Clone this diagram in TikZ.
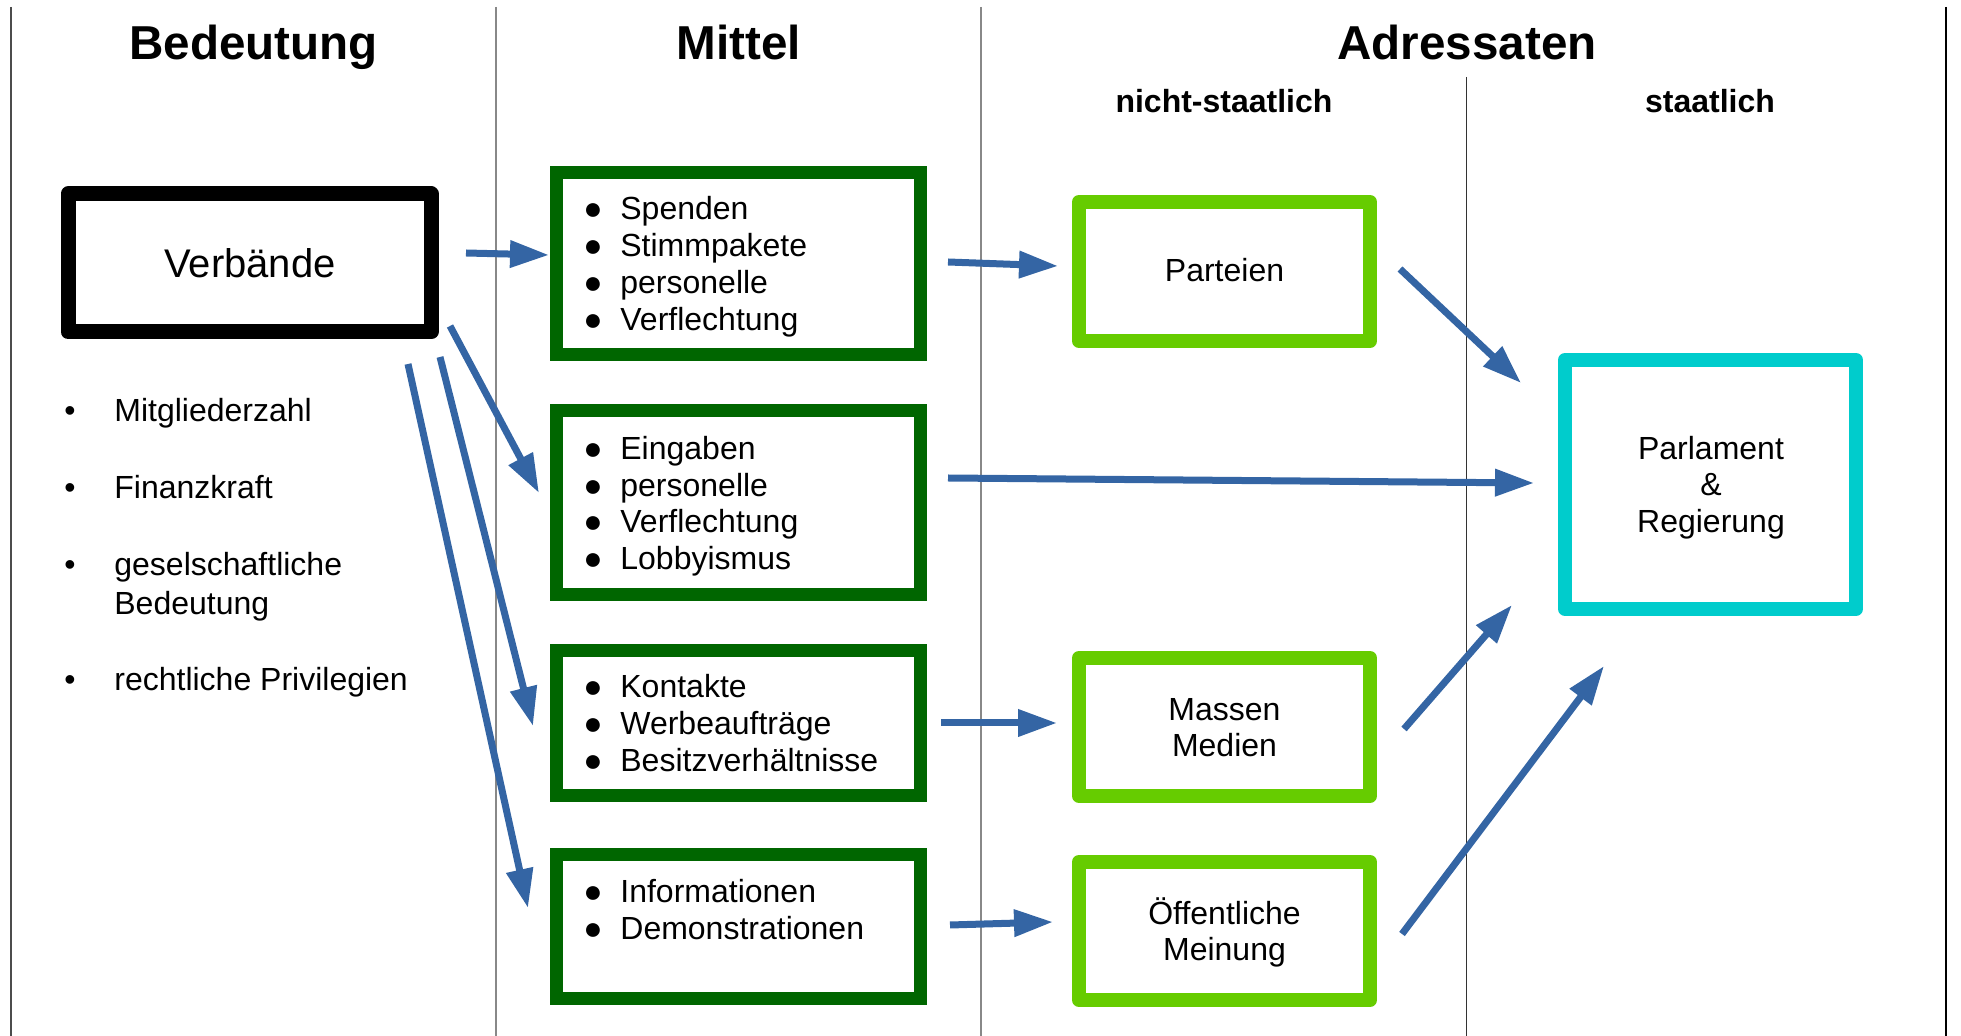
\documentclass[tikz,border=0pt]{standalone}
\usepackage{fontspec}
\setmainfont{Liberation Sans}
\usetikzlibrary{arrows.meta}
\definecolor{arrblue}{HTML}{3465A4}
\definecolor{dgreen}{HTML}{006600}
\definecolor{lgreen}{HTML}{66CC00}
\definecolor{cyanbox}{HTML}{00CCCC}
\definecolor{colgray}{HTML}{888888}
\begin{document}
\begin{tikzpicture}[x=0.5pt,y=-0.5pt,
  box/.style={draw, inner sep=0pt, outer sep=0pt},
  vbox/.style={box, draw=black, line width=7.5pt, line join=round},
  dbox/.style={box, draw=dgreen, line width=6.5pt, line join=miter, minimum width=182pt},
  lbox/.style={box, draw=lgreen, line width=7pt, line join=round, minimum width=145.5pt},
  cbox/.style={box, draw=cyanbox, line width=7pt, line join=round, minimum width=145.5pt},
  arr/.style={draw=arrblue, line width=3.5pt, -{Triangle[length=19.5pt,width=13pt]}},
  hd/.style={font=\fontsize{23.8}{28}\selectfont\bfseries, anchor=base, inner sep=0pt},
  sub/.style={font=\fontsize{16}{19}\selectfont\bfseries, anchor=base, inner sep=0pt},
  txt/.style={font=\fontsize{16}{19}\selectfont, anchor=base, inner sep=0pt},
  itm/.style={font=\fontsize{16}{19}\selectfont, anchor=base west, inner sep=0pt},
  bigtxt/.style={font=\fontsize{20}{24}\selectfont, anchor=base, inner sep=0pt},
  colline/.style={draw=colgray, line width=0.75pt}
]
\useasboundingbox (0,0) rectangle (1961,1036);

% column lines
\draw[draw=black!70, line width=0.75pt] (11,7) -- (11,1036);
\draw[colline] (496,7) -- (496,1036);
\draw[colline] (981,7) -- (981,1036);
\draw[draw=black!80, line width=0.5pt] (1466,77) -- (1466,1036);
\draw[draw=black, line width=0.75pt] (1946,7) -- (1946,1036);

% headers
\node[hd] (hBed) at (253.5,60) {Bedeutung};
\node[hd] (hMit) at (739,60) {Mittel};
\node[hd] (hAdr) at (1467,60) {Adressaten};
\node[sub] (hNicht) at (1224,113) {nicht-staatlich};
\node[sub] (hStaat) at (1710,113) {staatlich};

% Verbaende
\node[vbox, minimum width=181.5pt, minimum height=69pt] (verb) at (249.5,263) {};
\node[bigtxt] (verbt) at (250,278) {Verbände};

% left list
\node[txt] (lb1) at (70,422) {•};
\node[itm] (lt1) at (114,422) {Mitgliederzahl};
\node[txt] (lb2) at (70,499) {•};
\node[itm] (lt2) at (114,499) {Finanzkraft};
\node[txt] (lb3) at (70,576) {•};
\node[itm] (lt3) at (114,576) {geselschaftliche};
\node[itm] (lt3b) at (114,615) {Bedeutung};
\node[txt] (lb4) at (70,690.5) {•};
\node[itm] (lt4) at (114,690.5) {rechtliche Privilegien};

% Mittel boxes
\node[dbox, minimum height=91pt] (b1) at (738.5,263.5) {};
\node[dbox, minimum height=92pt] (b2) at (738.5,502.5) {};
\node[dbox, minimum height=72.5pt] (b3) at (738.5,723) {};
\node[dbox, minimum height=72pt] (b4) at (738.5,926.5) {};

\foreach \t [count=\i] in {Spenden, Stimmpakete, personelle, Verflechtung} {
  \node[txt] (b1b\i) at (593,{220+36.7*(\i-1)}) {●};
  \node[itm] (b1t\i) at (620,{220+36.7*(\i-1)}) {\t};
}
\foreach \t [count=\i] in {Eingaben, personelle, Verflechtung, Lobbyismus} {
  \node[txt] (b2b\i) at (593,{459.5+36.7*(\i-1)}) {●};
  \node[itm] (b2t\i) at (620,{459.5+36.7*(\i-1)}) {\t};
}
\foreach \t [count=\i] in {Kontakte, Werbeaufträge, Besitzverhältnisse} {
  \node[txt] (b3b\i) at (593,{698+36.7*(\i-1)}) {●};
  \node[itm] (b3t\i) at (620,{698+36.7*(\i-1)}) {\t};
}
\foreach \t [count=\i] in {Informationen, Demonstrationen} {
  \node[txt] (b4b\i) at (593,{903+36.7*(\i-1)}) {●};
  \node[itm] (b4t\i) at (620,{903+36.7*(\i-1)}) {\t};
}

% Adressaten nicht-staatlich
\node[lbox, minimum height=69.5pt] (part) at (1224.5,271.5) {};
\node[txt] (partt) at (1224.5,282) {Parteien};
\node[lbox, minimum height=69pt] (med) at (1224.5,727) {};
\node[txt] (medt1) at (1224.5,721) {Massen};
\node[txt] (medt2) at (1224.5,757) {Medien};
\node[lbox, minimum height=69pt] (mein) at (1224.5,931) {};
\node[txt] (meint1) at (1224.5,925) {Öffentliche};
\node[txt] (meint2) at (1224.5,961) {Meinung};

% staatlich
\node[cbox, minimum height=124.5pt] (parl) at (1710.5,484.5) {};
\node[txt] (parlt1) at (1711,459.5) {Parlament};
\node[txt] (parlt2) at (1711,496) {\&};
\node[txt] (parlt3) at (1711,532.7) {Regierung};

% arrow end points
\coordinate (a1s) at (466,253);  \coordinate (a1e) at (549,255);
\coordinate (a2s) at (450,326);  \coordinate (a2e) at (539,493);
\coordinate (a3s) at (440,357);  \coordinate (a3e) at (533,726);
\coordinate (a4s) at (408,364);  \coordinate (a4e) at (528,908);
\coordinate (a5s) at (948,262);  \coordinate (a5e) at (1058,266);
\coordinate (a6s) at (948,478);  \coordinate (a6e) at (1534,483);
\coordinate (a7s) at (941,723);  \coordinate (a7e) at (1057,723);
\coordinate (a8s) at (950,925);  \coordinate (a8e) at (1053,922);
\coordinate (a9s) at (1400,269); \coordinate (a9e) at (1521,383);
\coordinate (a10s) at (1404,729); \coordinate (a10e) at (1512,605);
\coordinate (a11s) at (1402,934); \coordinate (a11e) at (1604,666);

\foreach \k in {1,...,11} {
  \draw[arr] (a\k s) -- (a\k e);
}
\end{tikzpicture}
\end{document}
